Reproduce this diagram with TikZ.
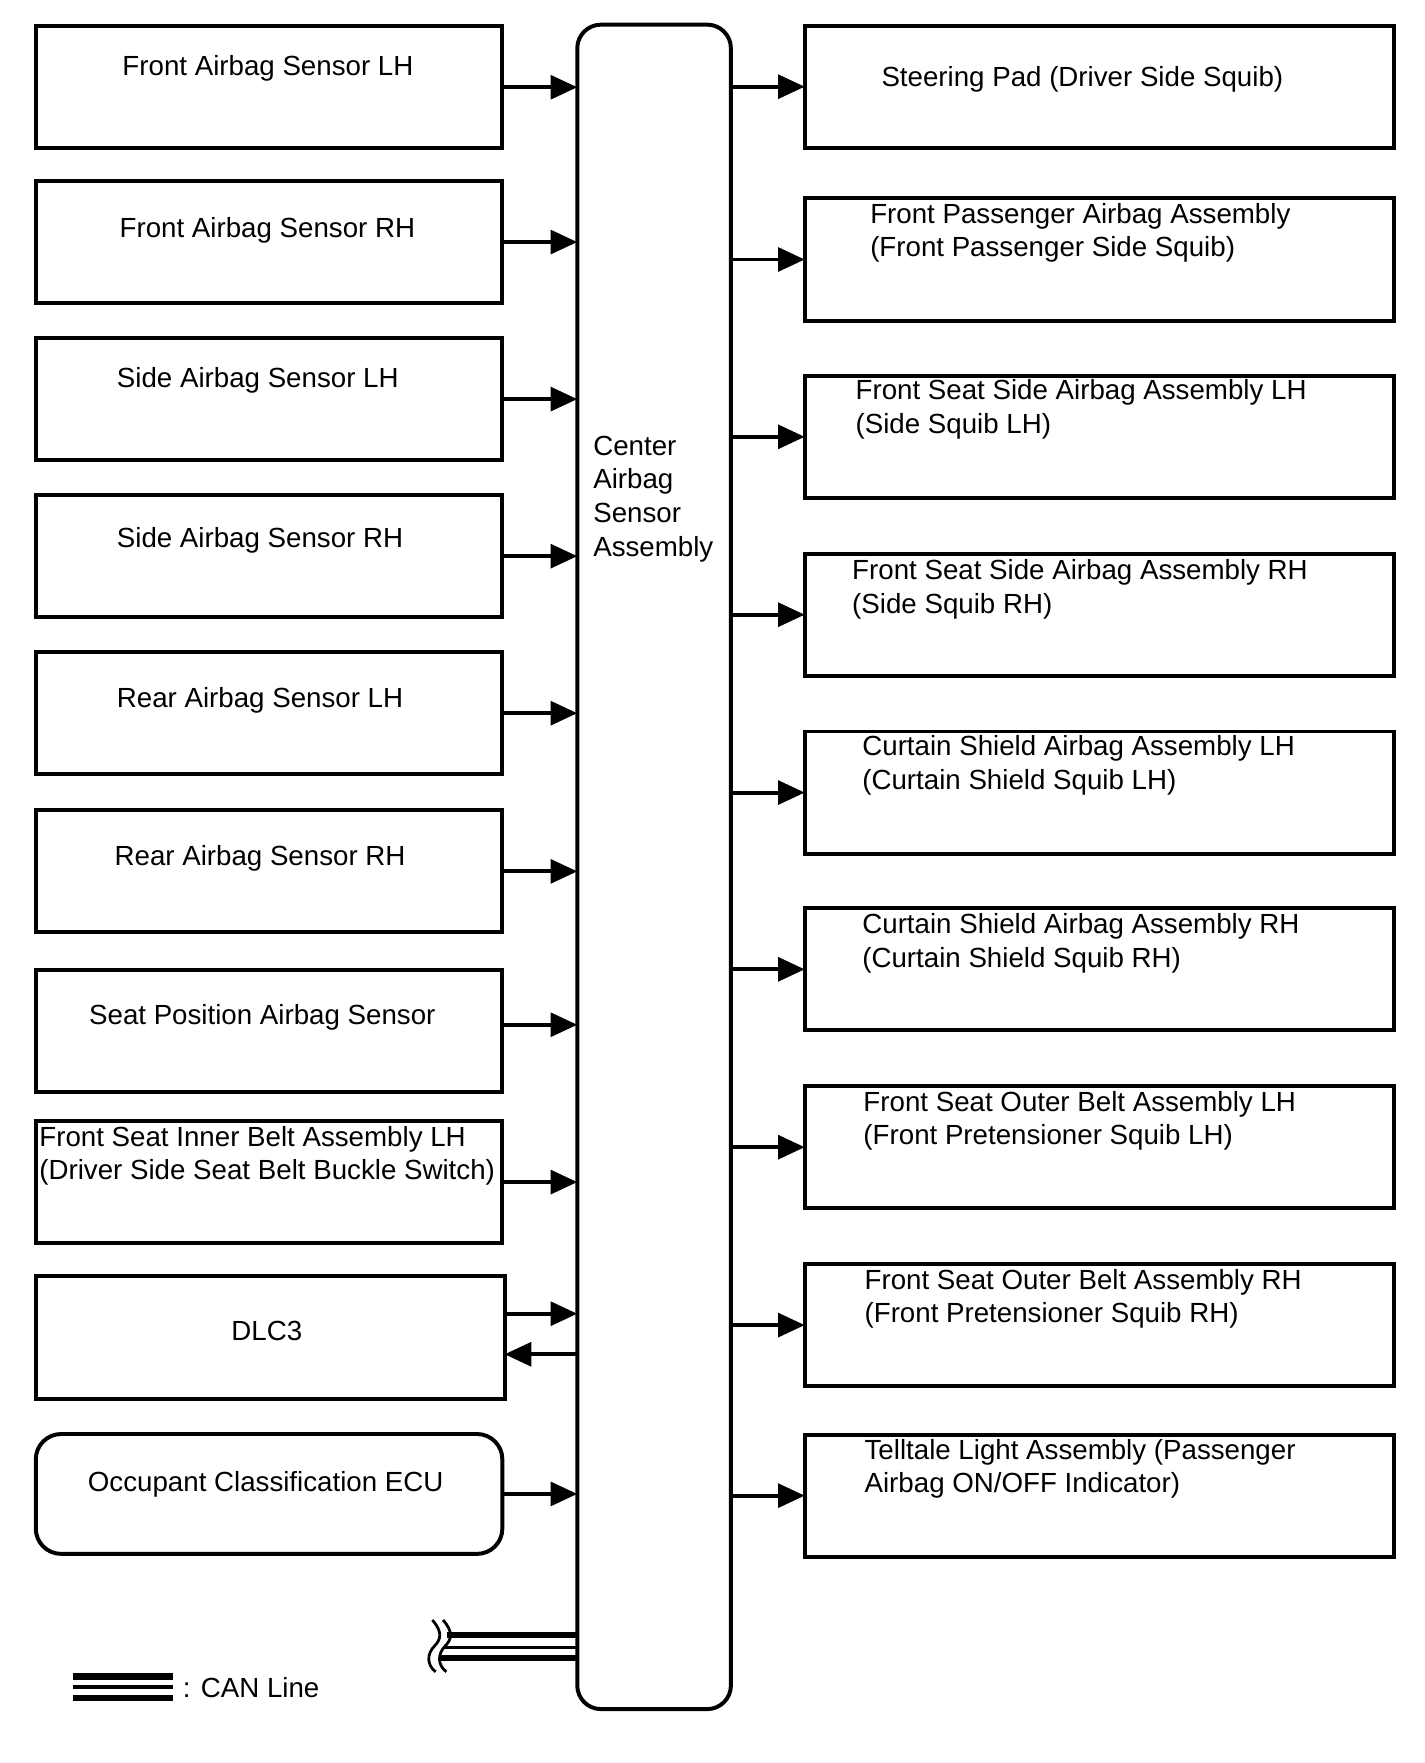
\documentclass[tikz,border=0pt]{standalone}
\usepackage{fontspec}
\setmainfont{Liberation Sans}
\usetikzlibrary{arrows.meta}

\begin{document}
\begin{tikzpicture}[x=0.02cm, y=-0.02cm, line width=2pt,
    every node/.style={inner sep=0pt, outer sep=0pt, font=\fontsize{14pt}{17pt}\selectfont},
    sensorbox/.style={draw, rectangle, minimum width=8.29cm, minimum height=2.17cm},
    squibbox/.style={draw, rectangle, minimum width=10.47cm, minimum height=2.17cm},
    ctext/.style={anchor=base},
    ltext/.style={anchor=base west, align=left},
    sig/.style={-{Triangle[length=13.5pt, width=12pt]}},
    canwire/.style={line width=3.2pt}]
    \useasboundingbox (0,0) rectangle (1265,1566);

    % center unit
    \node[draw, rectangle, rounded corners=0.42cm, minimum width=2.73cm, minimum height=29.93cm] (cab) at (581, 770) {};
    \node[ltext] (cabtxt) at (527, 494) {Center\\Airbag\\Sensor\\Assembly};

    % inputs
    \node[sensorbox] (fasl) at (239, 77.5) {};
    \node[sensorbox] (fasr) at (239, 215) {};
    \node[sensorbox] (sasl) at (239, 354.5) {};
    \node[sensorbox] (sasr) at (239, 494) {};
    \node[sensorbox] (rasl) at (239, 633.5) {};
    \node[sensorbox] (rasr) at (239, 774) {};
    \node[sensorbox] (spas) at (239, 915.5) {};
    \node[sensorbox] (buckle) at (239, 1050) {};
    \node[draw, rectangle, minimum width=8.33cm, minimum height=2.17cm] (dlc) at (240, 1188) {};
    \node[draw, rectangle, rounded corners=0.45cm, minimum width=8.29cm, minimum height=2.13cm] (oc) at (239, 1327) {};

    \node[ctext] (fasltxt) at (238, 67) {Front Airbag Sensor LH};
    \node[ctext] (fasrtxt) at (237.5, 211) {Front Airbag Sensor RH};
    \node[ctext] (sasltxt) at (229, 344) {Side Airbag Sensor LH};
    \node[ctext] (sasrtxt) at (231, 486) {Side Airbag Sensor RH};
    \node[ctext] (rasltxt) at (231, 628) {Rear Airbag Sensor LH};
    \node[ctext] (rasrtxt) at (231, 769) {Rear Airbag Sensor RH};
    \node[ctext] (spastxt) at (233, 910) {Seat Position Airbag Sensor};
    \node[ltext] (buckletxt) at (35, 1048) {Front Seat Inner Belt Assembly LH\\(Driver Side Seat Belt Buckle Switch)};
    \node[ctext] (dlctxt) at (237, 1191) {DLC3};
    \node[ctext] (octxt) at (236, 1325) {Occupant Classification ECU};

    % outputs
    \node[squibbox] (drv) at (976.5, 77) {};
    \node[squibbox] (pas) at (976.5, 230.5) {};
    \node[squibbox] (ssl) at (976.5, 388) {};
    \node[squibbox] (ssr) at (976.5, 546) {};
    \node[squibbox] (csl) at (976.5, 704) {};
    \node[squibbox] (csr) at (976.5, 861) {};
    \node[squibbox] (ptl) at (976.5, 1019) {};
    \node[squibbox] (ptr) at (976.5, 1177) {};
    \node[squibbox] (tell) at (976.5, 1328.5) {};

    \node[ltext] (drvtxt) at (783, 77) {Steering Pad (Driver Side Squib)};
    \node[ltext] (pastxt) at (773, 228) {Front Passenger Airbag Assembly\\(Front Passenger Side Squib)};
    \node[ltext] (ssltxt) at (760, 385) {Front Seat Side Airbag Assembly LH\\(Side Squib LH)};
    \node[ltext] (ssrtxt) at (757, 545) {Front Seat Side Airbag Assembly RH\\(Side Squib RH)};
    \node[ltext] (csltxt) at (766, 701) {Curtain Shield Airbag Assembly LH\\(Curtain Shield Squib LH)};
    \node[ltext] (csrtxt) at (766, 859) {Curtain Shield Airbag Assembly RH\\(Curtain Shield Squib RH)};
    \node[ltext] (ptltxt) at (767, 1017) {Front Seat Outer Belt Assembly LH\\(Front Pretensioner Squib LH)};
    \node[ltext] (ptrtxt) at (768, 1175) {Front Seat Outer Belt Assembly RH\\(Front Pretensioner Squib RH)};
    \node[ltext] (telltxt) at (768, 1326) {Telltale Light Assembly (Passenger\\Airbag ON/OFF Indicator)};

    % signals
    \draw[sig] (fasl.east) -- (fasl.east -| cab.west);
    \draw[sig] (fasr.east) -- (fasr.east -| cab.west);
    \draw[sig] (sasl.east) -- (sasl.east -| cab.west);
    \draw[sig] (sasr.east) -- (sasr.east -| cab.west);
    \draw[sig] (rasl.east) -- (rasl.east -| cab.west);
    \draw[sig] (rasr.east) -- (rasr.east -| cab.west);
    \coordinate (spasout) at ([yshift=3pt]spas.east);
    \draw[sig] (spasout) -- (spasout -| cab.west);
    \draw[sig] (buckle.east) -- (buckle.east -| cab.west);
    \coordinate (dlcin) at ([yshift=12pt]dlc.east);
    \coordinate (dlcout) at ([yshift=-8.5pt]dlc.east);
    \draw[sig] (dlcin) -- (dlcin -| cab.west);
    \draw[sig] (dlcout -| cab.west) -- (dlcout);
    \draw[sig] (oc.east) -- (oc.east -| cab.west);

    \draw[sig] (drv.west -| cab.east) -- (drv.west);
    \draw[sig] (pas.west -| cab.east) -- (pas.west);
    \draw[sig] (ssl.west -| cab.east) -- (ssl.west);
    \draw[sig] (ssr.west -| cab.east) -- (ssr.west);
    \draw[sig] (csl.west -| cab.east) -- (csl.west);
    \draw[sig] (csr.west -| cab.east) -- (csr.west);
    \draw[sig] (ptl.west -| cab.east) -- (ptl.west);
    \draw[sig] (ptr.west -| cab.east) -- (ptr.west);
    \draw[sig] (tell.west -| cab.east) -- (tell.west);

    % CAN line
    \coordinate (canhi) at (397, 1452.5);
    \coordinate (canmid) at (394, 1463);
    \coordinate (canlo) at (391, 1472.5);
    \draw[canwire] (canhi) -- (canhi -| cab.west);
    \draw[line width=1.5pt] (canmid) -- (canmid -| cab.west);
    \draw[canwire] (canlo) -- (canlo -| cab.west);
    \draw[line width=1.4pt] (384,1439) .. controls (393,1449) and (392,1456) .. (386,1462) .. controls (379,1469) and (379,1479) .. (387,1485);
    \draw[line width=1.4pt] (393.5,1439) .. controls (402.5,1449) and (401.5,1456) .. (395.5,1462) .. controls (388.5,1469) and (388.5,1479) .. (396.5,1485);

    % legend
    \draw[canwire] (65,1489) -- (154,1489);
    \draw[line width=1.6pt] (65,1498.5) -- (154,1498.5);
    \draw[canwire] (65,1508) -- (154,1508);
    \node[ltext] (legtxt) at (162.5, 1507.5) {: CAN Line};
\end{tikzpicture}
\end{document}
